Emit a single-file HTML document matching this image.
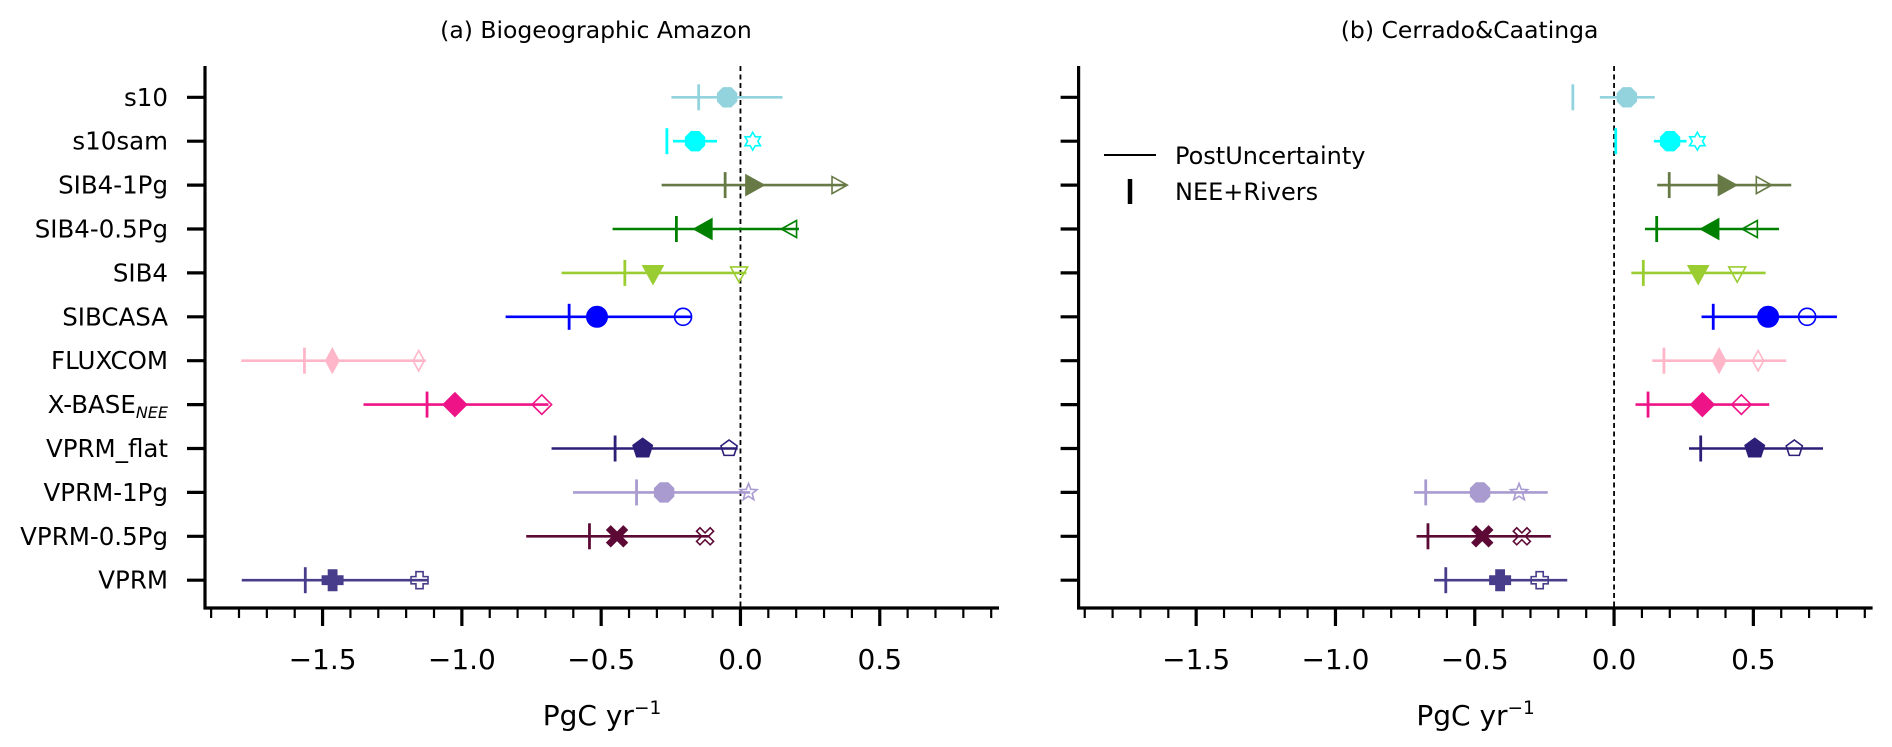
<!DOCTYPE html>
<html><head><meta charset="utf-8"><title>Flux comparison</title>
<style>
html,body{margin:0;padding:0;background:#fff;}
svg{display:block;font-family:"DejaVu Sans","Liberation Sans",sans-serif;}
</style></head>
<body>
<svg id="chart" width="1892" height="747" viewBox="0 0 1892 747" xmlns="http://www.w3.org/2000/svg"></svg>
<script>
const categories = ["s10","s10sam","SIB4-1Pg","SIB4-0.5Pg","SIB4","SIBCASA","FLUXCOM","X-BASE","VPRM_flat","VPRM-1Pg","VPRM-0.5Pg","VPRM"];
const colors = ["#92d3dd","#00ffff","#677a46","#008000","#9acd32","#0000ff","#ffb6c8","#ee1487","#2d1e78","#a99bd0","#5c0a35","#483d8b"];
const markers = ["oct","oct","tri-right","tri-left","tri-down","circle","thin-diamond","diamond","pentagon","oct","x","plus"];
const openMarkers = ["none","hexstar","tri-right","tri-left","tri-down","circle","thin-diamond","diamond","pentagon","star","x","plus"];
const xTicks = [-1.5,-1.0,-0.5,0.0,0.5];
const xTickLabels = ["\u22121.5","\u22121.0","\u22120.5","0.0","0.5"];
const panelTitles = ["(a) Biogeographic Amazon","(b) Cerrado&Caatinga"];
// Panel (a)
const amzLo   = [-0.248,-0.242,-0.283,-0.459,-0.642,-0.843,-1.792,-1.353,-0.678,-0.601,-0.769,-1.790];
const amzHi   = [0.151,-0.084,0.380,0.210,0.021,-0.176,-1.129,-0.689,-0.010,0.035,-0.115,-1.122];
const amzNee  = [-0.150,-0.264,-0.055,-0.230,-0.415,-0.615,-1.565,-1.125,-0.450,-0.373,-0.542,-1.562];
const amzFill = [-0.048,-0.163,0.045,-0.128,-0.314,-0.515,-1.465,-1.025,-0.351,-0.274,-0.443,-1.464];
const amzOpen = [null,0.044,0.350,0.180,-0.005,-0.206,-1.155,-0.713,-0.041,0.029,-0.127,-1.152];
// Panel (b)
const cerLo   = [-0.051,0.143,0.155,0.111,0.062,0.314,0.137,0.077,0.269,-0.718,-0.709,-0.646];
const cerHi   = [0.146,0.260,0.636,0.592,0.544,0.800,0.618,0.557,0.750,-0.238,-0.227,-0.168];
const cerNee  = [-0.148,0.006,0.198,0.153,0.105,0.356,0.179,0.122,0.311,-0.676,-0.668,-0.604];
const cerFill = [0.046,0.201,0.400,0.350,0.302,0.553,0.377,0.317,0.505,-0.481,-0.473,-0.409];
const cerOpen = [null,0.299,0.532,0.493,0.442,0.693,0.517,0.457,0.647,-0.341,-0.331,-0.267];

const NS="http://www.w3.org/2000/svg";
const svg=document.getElementById('chart');
function mk(tag,attrs,parent){const e=document.createElementNS(NS,tag);for(const k in attrs)e.setAttribute(k,attrs[k]);(parent||svg).appendChild(e);return e;}

const XMIN=-1.922, XMAX=0.928, PXW=794;
const AX_TOP=66, AX_BOT=608, ROW0=97.3, ROWSTEP=43.9;
function yScale(i){return ROW0+i*ROWSTEP;}

function markerPath(type,r){
  function poly(n,rot,rad){const p=[];for(let k=0;k<n;k++){const a=rot+k*2*Math.PI/n;p.push([rad*Math.cos(a),rad*Math.sin(a)]);}return p;}
  let p;
  switch(type){
    case "oct": p=poly(8,Math.PI/8,r);break;
    case "tri-right": p=[[r*1.1,0],[-r*0.7,-r],[-r*0.7,r]];break;
    case "tri-left": p=[[-r*1.1,0],[r*0.7,-r],[r*0.7,r]];break;
    case "tri-down": p=[[0,r*1.1],[-r,-r*0.7],[r,-r*0.7]];break;
    case "thin-diamond": p=[[0,-r*1.2],[r*0.65,0],[0,r*1.2],[-r*0.65,0]];break;
    case "diamond": p=[[0,-r*1.15],[r*1.15,0],[0,r*1.15],[-r*1.15,0]];break;
    case "pentagon": p=poly(5,-Math.PI/2,r);break;
    case "star": {p=[];for(let k=0;k<10;k++){const a=-Math.PI/2+k*Math.PI/5;const rr=k%2?r*0.45:r*1.05;p.push([rr*Math.cos(a),rr*Math.sin(a)]);}break;}
    case "hexstar": {p=[];for(let k=0;k<12;k++){const a=-Math.PI/2+k*Math.PI/6;const rr=k%2?r*0.6:r*1.05;p.push([rr*Math.cos(a),rr*Math.sin(a)]);}break;}
    case "x": {const a=r*0.4,b=r;p=[[-b,-b+a],[-b+a,-b],[0,-a],[b-a,-b],[b,-b+a],[a,0],[b,b-a],[b-a,b],[0,a],[-b+a,b],[-b,b-a],[-a,0]];break;}
    case "plus": {const a=r*0.42,b=r;p=[[-a,-b],[a,-b],[a,-a],[b,-a],[b,a],[a,a],[a,b],[-a,b],[-a,a],[-b,a],[-b,-a],[-a,-a]];break;}
    default: return null;
  }
  return "M"+p.map(q=>q[0].toFixed(2)+","+q[1].toFixed(2)).join("L")+"Z";
}
function drawMarker(g,type,cx,cy,r,color,filled,name){
  let e;
  if(type==="circle"){
    e=mk('circle',{cx:cx,cy:cy,r:r,fill:filled?color:'none',stroke:color,'stroke-width':filled?1:1.6},g);
  } else {
    const d=markerPath(type,r); if(!d) return;
    e=mk('path',{d:d,transform:`translate(${cx},${cy})`,fill:filled?color:'none',stroke:color,'stroke-width':filled?1:1.6},g);
  }
  
  
}

function drawPanel(p,left,lo,hi,nee,fill,open){
  const xScale=v=>left+(v-XMIN)/(XMAX-XMIN)*PXW;
  const g=mk('g',{});
  
  
  const cx=left+PXW/2;
  const t=mk('text',{x:cx-6,y:38,'text-anchor':'middle','font-size':23.5,fill:'#000'},g);
  t.textContent=panelTitles[p];
  
  
  const z=mk('line',{x1:xScale(0),x2:xScale(0),y1:AX_TOP,y2:AX_BOT,stroke:'#000','stroke-width':1.8,'stroke-dasharray':'5,3.5'},g);
  
  
  const sp=mk('path',{d:`M${left},${AX_TOP}V${AX_BOT}H${left+PXW}`,fill:'none',stroke:'#000','stroke-width':3.2},g);
  
  
  categories.forEach((c,i)=>{
    const y=yScale(i);
    const tk=mk('line',{x1:left-18,x2:left,y1:y,y2:y,stroke:'#000','stroke-width':3.2},g);
    
    
    if(p===0){
      const lb=mk('text',{x:left-37,y:y+8.5,'text-anchor':'end','font-size':24.5,fill:'#000'},g);
      if(c==="X-BASE"){
        lb.textContent="X-BASE";
        const s=mk('tspan',{'font-style':'italic','font-size':16,dy:5},lb);
        s.textContent="NEE";
      } else lb.textContent=c;
      
      
    }
  });
  for(let k=-19;k<=9;k++){
    const v=k/10; const x=xScale(v);
    const major=xTicks.some(t=>Math.abs(t-v)<1e-6);
    const tl=mk('line',{x1:x,x2:x,y1:AX_BOT,y2:AX_BOT+(major?18:10),stroke:'#000','stroke-width':major?3.2:2.2},g);
    
    
  }
  xTicks.forEach((v,i)=>{
    const tx=mk('text',{x:xScale(v),y:669,'text-anchor':'middle','font-size':28,fill:'#000'},g);
    tx.textContent=xTickLabels[i];
    
    
  });
  const xl=mk('text',{x:cx,y:725,'text-anchor':'middle','font-size':28,fill:'#000'},g);
  xl.textContent="PgC yr";
  const sup=mk('tspan',{'font-size':18.5,dy:-11},xl); sup.textContent="\u22121";
  
  
  categories.forEach((c,i)=>{
    const y=yScale(i), col=colors[i];
    const sg=mk('g',{},g);
    
    
    const l=mk('line',{x1:xScale(lo[i]),x2:xScale(hi[i]),y1:y,y2:y,stroke:col,'stroke-width':2.6},sg);
    
    
    const n=mk('line',{x1:xScale(nee[i]),x2:xScale(nee[i]),y1:y-13,y2:y+13,stroke:col,'stroke-width':2.8},sg);
    
    
    drawMarker(sg,markers[i],xScale(fill[i]),y,10.5,col,true,'posterior-marker');
    if(open[i]!==null && openMarkers[i]!=="none") drawMarker(sg,openMarkers[i],xScale(open[i]),y,8.5,col,false,'prior-marker');
  });
}
drawPanel(0,205,amzLo,amzHi,amzNee,amzFill,amzOpen);
drawPanel(1,1078.6,cerLo,cerHi,cerNee,cerFill,cerOpen);

const lg=mk('g',{});


const l1=mk('line',{x1:1104,x2:1156,y1:155,y2:155,stroke:'#000','stroke-width':2},lg);


const t1=mk('text',{x:1175,y:164,'font-size':24,fill:'#000'},lg); t1.textContent="PostUncertainty";


const l2=mk('line',{x1:1130,x2:1130,y1:179,y2:204,stroke:'#000','stroke-width':4.5},lg);


const t2=mk('text',{x:1175,y:200,'font-size':24,fill:'#000'},lg); t2.textContent="NEE+Rivers";


</script>
</body></html>
